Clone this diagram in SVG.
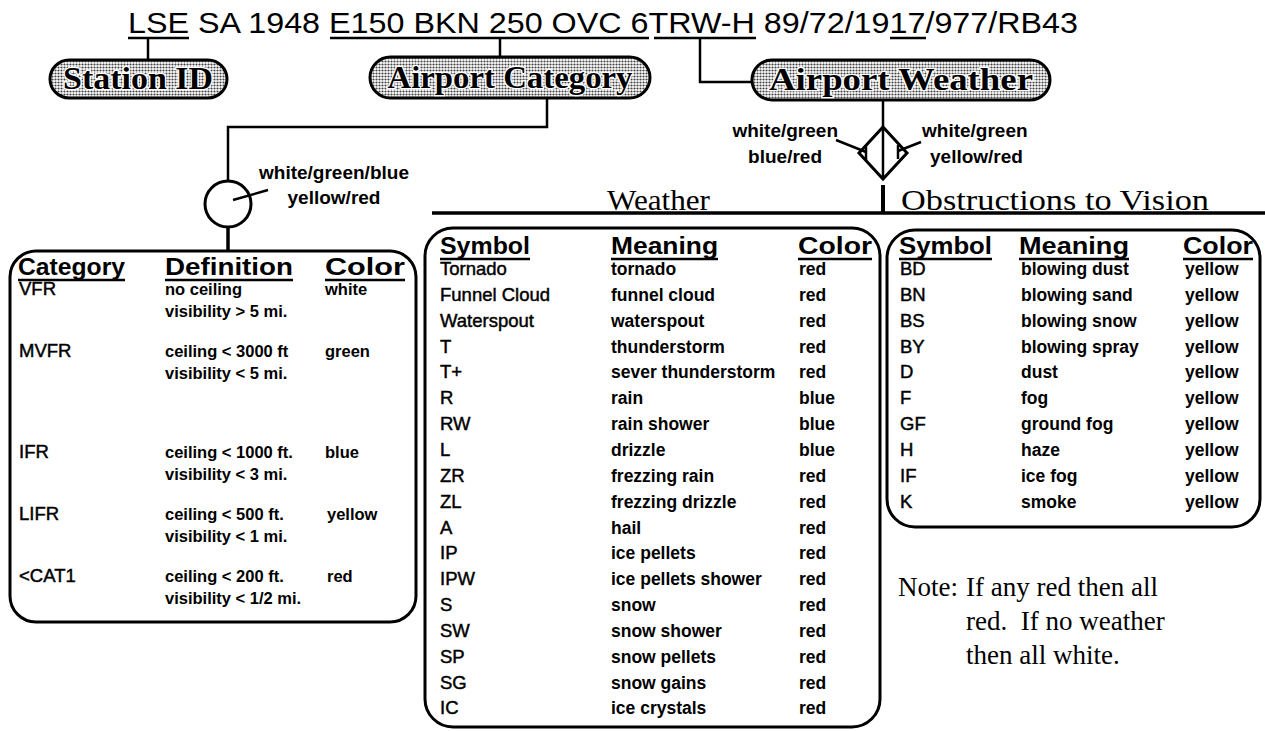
<svg xmlns="http://www.w3.org/2000/svg" width="1265" height="731" viewBox="0 0 1265 731">
<defs>
<pattern id="dots" width="3" height="3" patternUnits="userSpaceOnUse">
<rect width="3" height="3" fill="#fff"/>
<circle cx="1.5" cy="1.5" r="1.1" fill="#444"/>
</pattern>
<style>
.sans{font-family:"Liberation Sans",Arial,sans-serif;fill:#000}
.serif{font-family:"Liberation Serif","Times New Roman",serif;fill:#000}
.pill{fill:url(#dots);stroke:#000;stroke-width:3}
.pilltxt{font-family:"Liberation Serif","Times New Roman",serif;font-weight:bold;font-size:31px;fill:#000;stroke:#fff;stroke-width:2.5;paint-order:stroke;text-anchor:middle}
.ln{stroke:#000;stroke-width:2.5;fill:none}
.box{fill:none;stroke:#000;stroke-width:3}
.hdr{font-family:"Liberation Sans",Arial,sans-serif;font-weight:bold;font-size:24px;fill:#000}
.sym{font-family:"Liberation Sans",Arial,sans-serif;font-size:18.5px;fill:#000;stroke:#000;stroke-width:0.45}
.mean{font-family:"Liberation Sans",Arial,sans-serif;font-weight:bold;font-size:17.5px;fill:#000}
.def{font-family:"Liberation Sans",Arial,sans-serif;font-weight:bold;font-size:16.5px;fill:#000}
.lbl{font-family:"Liberation Sans",Arial,sans-serif;font-weight:bold;font-size:19px;fill:#000}
.ul{stroke:#000;stroke-width:2.5}
</style>
</defs>
<rect width="1265" height="731" fill="#fff"/>

<g id="metar-text">
<text class="sans" x="128" y="33" font-size="30" textLength="950" lengthAdjust="spacingAndGlyphs">LSE SA 1948 E150 BKN 250 OVC 6TRW-H 89/72/1917/977/RB43</text>
<line class="ul" x1="128" y1="38" x2="189" y2="38"/>
<line class="ul" x1="330" y1="38" x2="649" y2="38"/>
<line class="ul" x1="654" y1="38" x2="756" y2="38"/>
<line class="ul" x1="890" y1="38" x2="926" y2="38"/>
</g>

<g id="connectors">
<polyline class="ln" points="148,38 148,60"/>
<polyline class="ln" points="500,38 500,57"/>
<polyline class="ln" points="700,38 700,82 752,82"/>
<polyline class="ln" points="547,98 547,127 228,127 228,181"/>
<polyline class="ln" points="228,227 228,251" style="stroke-width:3.5"/>
<polyline class="ln" points="883,100 883,127"/>
<line x1="883" y1="185" x2="883" y2="213" stroke="#000" stroke-width="4"/>
<line x1="432" y1="213" x2="1265" y2="213" stroke="#000" stroke-width="3.5"/>
</g>

<g id="station-id">
<rect class="pill" x="50" y="60" width="177" height="38" rx="19"/>
<text class="pilltxt" x="138" y="89" textLength="150" lengthAdjust="spacingAndGlyphs">Station ID</text>
</g>

<g id="airport-category">
<rect class="pill" x="370" y="57" width="280" height="41" rx="20.5"/>
<text class="pilltxt" x="510" y="88" textLength="245" lengthAdjust="spacingAndGlyphs">Airport Category</text>
</g>

<g id="airport-weather">
<rect class="pill" x="752" y="60" width="298" height="40" rx="20"/>
<text class="pilltxt" x="901" y="90" textLength="264" lengthAdjust="spacingAndGlyphs">Airport Weather</text>
</g>

<g id="category-indicator">
<circle cx="228" cy="204" r="23" fill="#fff" stroke="#000" stroke-width="3"/>
<line class="ln" x1="233" y1="200" x2="268" y2="190"/>
<text class="lbl" x="334" y="179" text-anchor="middle">white/green/blue</text>
<text class="lbl" x="334" y="204" text-anchor="middle">yellow/red</text>
</g>

<g id="weather-indicator">
<polygon points="883,127 907,153 883,179 859,153" fill="#fff" stroke="#000" stroke-width="3" stroke-linejoin="miter"/>
<line class="ln" x1="883" y1="127" x2="883" y2="179"/>
<line class="ln" x1="836" y1="140" x2="866" y2="152"/>
<line class="ln" x1="866" y1="146" x2="866" y2="160"/>
<line class="ln" x1="921" y1="142" x2="898" y2="151"/>
<line class="ln" x1="898" y1="145" x2="898" y2="159"/>
<text class="lbl" x="838" y="137" text-anchor="end">white/green</text>
<text class="lbl" x="822" y="163" text-anchor="end">blue/red</text>
<text class="lbl" x="922" y="137">white/green</text>
<text class="lbl" x="930" y="163">yellow/red</text>
</g>

<g id="section-titles">
<text class="serif" x="607" y="210" font-size="30" textLength="103" lengthAdjust="spacingAndGlyphs">Weather</text>
<text class="serif" x="901" y="210" font-size="30" textLength="308" lengthAdjust="spacingAndGlyphs">Obstructions to Vision</text>
</g>

<g id="category-table">
<rect class="box" x="10" y="251" width="406" height="371" rx="26"/>
<text class="hdr" x="18" y="275" textLength="107" lengthAdjust="spacingAndGlyphs">Category</text>
<text class="hdr" x="165" y="275" textLength="128" lengthAdjust="spacingAndGlyphs">Definition</text>
<text class="hdr" x="325" y="275" textLength="80" lengthAdjust="spacingAndGlyphs">Color</text>
<line class="ul" x1="18" y1="280" x2="125" y2="280"/>
<line class="ul" x1="165" y1="280" x2="293" y2="280"/>
<line class="ul" x1="325" y1="280" x2="405" y2="280"/>
<text class="sym" font-size="17.5">
<tspan x="19" y="295">VFR</tspan>
<tspan x="19" y="357">MVFR</tspan>
<tspan x="19" y="458">IFR</tspan>
<tspan x="19" y="520">LIFR</tspan>
<tspan x="19" y="582">&lt;CAT1</tspan>
</text>
<text class="def">
<tspan x="165" y="295">no ceiling</tspan>
<tspan x="165" y="317">visibility &gt; 5 mi.</tspan>
<tspan x="165" y="357">ceiling &lt; 3000 ft</tspan>
<tspan x="165" y="379">visibility &lt; 5 mi.</tspan>
<tspan x="165" y="458">ceiling &lt; 1000 ft.</tspan>
<tspan x="165" y="480">visibility &lt; 3 mi.</tspan>
<tspan x="165" y="520">ceiling &lt; 500 ft.</tspan>
<tspan x="165" y="542">visibility &lt; 1 mi.</tspan>
<tspan x="165" y="582">ceiling &lt; 200 ft.</tspan>
<tspan x="165" y="604">visibility &lt; 1/2 mi.</tspan>
</text>
<text class="def">
<tspan x="325" y="295">white</tspan>
<tspan x="325" y="357">green</tspan>
<tspan x="325" y="458">blue</tspan>
<tspan x="327" y="520">yellow</tspan>
<tspan x="327" y="582">red</tspan>
</text>
</g>

<g id="weather-table">
<rect class="box" x="425" y="228" width="455" height="499" rx="28"/>
<text class="hdr" x="440" y="254" textLength="90" lengthAdjust="spacingAndGlyphs">Symbol</text>
<text class="hdr" x="611" y="254" textLength="107" lengthAdjust="spacingAndGlyphs">Meaning</text>
<text class="hdr" x="798" y="254" textLength="74" lengthAdjust="spacingAndGlyphs">Color</text>
<line class="ul" x1="440" y1="259" x2="530" y2="259"/>
<line class="ul" x1="611" y1="259" x2="718" y2="259"/>
<line class="ul" x1="798" y1="259" x2="872" y2="259"/>
<text class="sym">
<tspan x="440" y="275">Tornado</tspan>
<tspan x="440" y="301">Funnel Cloud</tspan>
<tspan x="440" y="327">Waterspout</tspan>
<tspan x="440" y="353">T</tspan>
<tspan x="440" y="378">T+</tspan>
<tspan x="440" y="404">R</tspan>
<tspan x="440" y="430">RW</tspan>
<tspan x="440" y="456">L</tspan>
<tspan x="440" y="482">ZR</tspan>
<tspan x="440" y="508">ZL</tspan>
<tspan x="440" y="534">A</tspan>
<tspan x="440" y="559">IP</tspan>
<tspan x="440" y="585">IPW</tspan>
<tspan x="440" y="611">S</tspan>
<tspan x="440" y="637">SW</tspan>
<tspan x="440" y="663">SP</tspan>
<tspan x="440" y="689">SG</tspan>
<tspan x="440" y="714">IC</tspan>
</text>
<text class="mean">
<tspan x="611" y="275">tornado</tspan>
<tspan x="611" y="301">funnel cloud</tspan>
<tspan x="611" y="327">waterspout</tspan>
<tspan x="611" y="353">thunderstorm</tspan>
<tspan x="611" y="378">sever thunderstorm</tspan>
<tspan x="611" y="404">rain</tspan>
<tspan x="611" y="430">rain shower</tspan>
<tspan x="611" y="456">drizzle</tspan>
<tspan x="611" y="482">frezzing rain</tspan>
<tspan x="611" y="508">frezzing drizzle</tspan>
<tspan x="611" y="534">hail</tspan>
<tspan x="611" y="559">ice pellets</tspan>
<tspan x="611" y="585">ice pellets shower</tspan>
<tspan x="611" y="611">snow</tspan>
<tspan x="611" y="637">snow shower</tspan>
<tspan x="611" y="663">snow pellets</tspan>
<tspan x="611" y="689">snow gains</tspan>
<tspan x="611" y="714">ice crystals</tspan>
</text>
<text class="mean">
<tspan x="799" y="275">red</tspan>
<tspan x="799" y="301">red</tspan>
<tspan x="799" y="327">red</tspan>
<tspan x="799" y="353">red</tspan>
<tspan x="799" y="378">red</tspan>
<tspan x="799" y="404">blue</tspan>
<tspan x="799" y="430">blue</tspan>
<tspan x="799" y="456">blue</tspan>
<tspan x="799" y="482">red</tspan>
<tspan x="799" y="508">red</tspan>
<tspan x="799" y="534">red</tspan>
<tspan x="799" y="559">red</tspan>
<tspan x="799" y="585">red</tspan>
<tspan x="799" y="611">red</tspan>
<tspan x="799" y="637">red</tspan>
<tspan x="799" y="663">red</tspan>
<tspan x="799" y="689">red</tspan>
<tspan x="799" y="714">red</tspan>
</text>
</g>

<g id="obstructions-table">
<rect class="box" x="887" y="230" width="373" height="297" rx="28"/>
<text class="hdr" x="899" y="254" textLength="93" lengthAdjust="spacingAndGlyphs">Symbol</text>
<text class="hdr" x="1019" y="254" textLength="110" lengthAdjust="spacingAndGlyphs">Meaning</text>
<text class="hdr" x="1183" y="254" textLength="70" lengthAdjust="spacingAndGlyphs">Color</text>
<line class="ul" x1="899" y1="259" x2="992" y2="259"/>
<line class="ul" x1="1019" y1="259" x2="1129" y2="259"/>
<line class="ul" x1="1183" y1="259" x2="1253" y2="259"/>
<text class="sym">
<tspan x="900" y="275">BD</tspan>
<tspan x="900" y="301">BN</tspan>
<tspan x="900" y="327">BS</tspan>
<tspan x="900" y="353">BY</tspan>
<tspan x="900" y="378">D</tspan>
<tspan x="900" y="404">F</tspan>
<tspan x="900" y="430">GF</tspan>
<tspan x="900" y="456">H</tspan>
<tspan x="900" y="482">IF</tspan>
<tspan x="900" y="508">K</tspan>
</text>
<text class="mean">
<tspan x="1021" y="275">blowing dust</tspan>
<tspan x="1021" y="301">blowing sand</tspan>
<tspan x="1021" y="327">blowing snow</tspan>
<tspan x="1021" y="353">blowing spray</tspan>
<tspan x="1021" y="378">dust</tspan>
<tspan x="1021" y="404">fog</tspan>
<tspan x="1021" y="430">ground fog</tspan>
<tspan x="1021" y="456">haze</tspan>
<tspan x="1021" y="482">ice fog</tspan>
<tspan x="1021" y="508">smoke</tspan>
</text>
<text class="mean">
<tspan x="1185" y="275">yellow</tspan>
<tspan x="1185" y="301">yellow</tspan>
<tspan x="1185" y="327">yellow</tspan>
<tspan x="1185" y="353">yellow</tspan>
<tspan x="1185" y="378">yellow</tspan>
<tspan x="1185" y="404">yellow</tspan>
<tspan x="1185" y="430">yellow</tspan>
<tspan x="1185" y="456">yellow</tspan>
<tspan x="1185" y="482">yellow</tspan>
<tspan x="1185" y="508">yellow</tspan>
</text>
</g>

<g id="note">
<text class="serif" font-size="27">
<tspan x="898" y="596">Note:</tspan>
<tspan x="966" y="596">If any red then all</tspan>
<tspan x="966" y="630">red.&#160; If no weather</tspan>
<tspan x="966" y="664">then all white.</tspan>
</text>
</g>
</svg>
